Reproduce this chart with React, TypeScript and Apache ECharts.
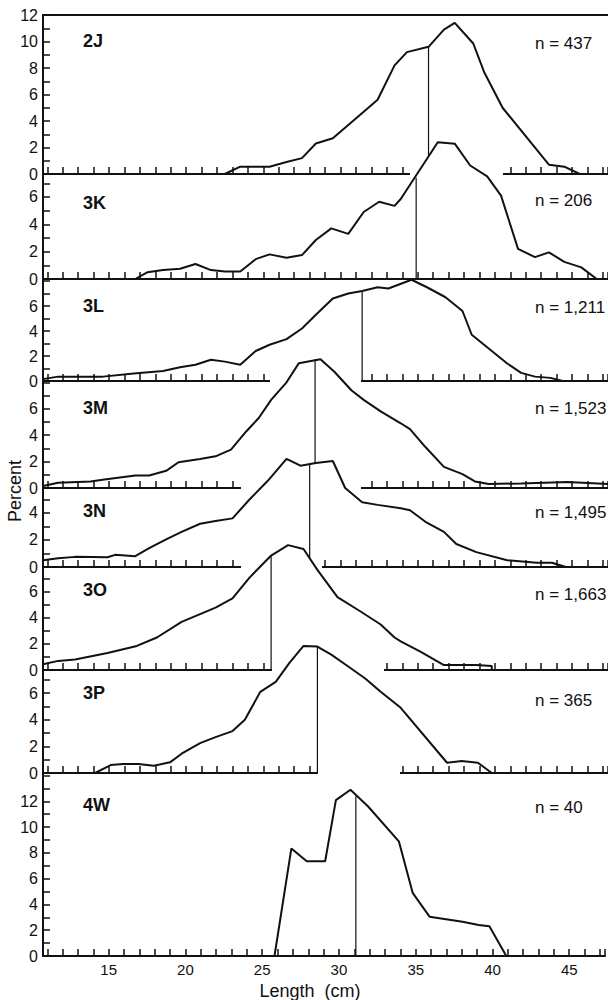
import React, { useEffect, useRef } from 'react';
import * as echarts from 'echarts';

type Pt = [number, number];

const panelNames = ['2J', '3K', '3L', '3M', '3N', '3O', '3P', '4W'];
const sampleSizes = ['437', '206', '1,211', '1,523', '1,495', '1,663', '365', '40'];

const curve2J: Pt[] = [[22.5, 0], [23.5, 0.55], [25.4, 0.55], [26.5, 0.9], [27.5, 1.2], [28.4, 2.3], [29.5, 2.7], [30.5, 3.7], [31.5, 4.7], [32.4, 5.6], [33.5, 8.2], [34.3, 9.2], [35.7, 9.6], [36.7, 10.9], [37.4, 11.4], [38.6, 9.85], [39.3, 7.7], [40.5, 5.0], [43.5, 0.7], [44.5, 0.55], [45.5, 0]];
const curve3K: Pt[] = [[16.7, 0], [17.5, 0.5], [18.5, 0.65], [19.6, 0.75], [20.6, 1.1], [21.6, 0.65], [22.5, 0.55], [23.5, 0.55], [24.5, 1.45], [25.4, 1.8], [26.5, 1.55], [27.5, 1.75], [28.4, 2.85], [29.4, 3.7], [30.5, 3.3], [31.5, 4.9], [32.5, 5.65], [33.5, 5.35], [33.9, 5.85], [36.3, 10.0], [37.4, 9.9], [38.4, 8.3], [39.5, 7.5], [40.4, 6.1], [41.5, 2.2], [42.6, 1.6], [43.5, 1.95], [44.5, 1.25], [45.6, 0.85], [46.6, 0]];
const curve3L: Pt[] = [[10.72, 0.15], [11.7, 0.35], [14.6, 0.35], [16.6, 0.6], [18.5, 0.8], [19.6, 1.1], [20.6, 1.3], [21.6, 1.7], [22.5, 1.55], [23.5, 1.3], [24.5, 2.4], [25.4, 2.9], [26.5, 3.35], [27.5, 4.2], [28.4, 5.3], [29.5, 6.6], [30.5, 7.0], [31.4, 7.2], [32.4, 7.5], [33.1, 7.4], [34.6, 8.1], [35.6, 7.5], [36.8, 6.7], [37.9, 5.6], [38.5, 3.7], [39.6, 2.6], [40.8, 1.4], [41.7, 0.65], [42.6, 0.35], [43.6, 0.25], [44.4, 0]];
const curve3M: Pt[] = [[10.72, 0.15], [11.7, 0.4], [13.8, 0.5], [14.7, 0.65], [15.7, 0.8], [16.7, 0.95], [17.6, 0.95], [18.7, 1.3], [19.5, 1.95], [20.9, 2.2], [21.9, 2.4], [22.9, 2.9], [23.9, 4.3], [24.7, 5.3], [25.5, 6.67], [26.5, 8.0], [27.3, 9.45], [28.7, 9.75], [29.6, 8.8], [30.7, 7.4], [31.5, 6.67], [32.6, 5.8], [33.9, 4.9], [34.5, 4.45], [35.5, 3.1], [36.7, 1.6], [37.9, 1.05], [38.7, 0.5], [39.6, 0.3], [41.7, 0.35], [44.7, 0.45], [47.33, 0.3]];
const curve3N: Pt[] = [[10.72, 0.5], [11.7, 0.65], [12.8, 0.75], [14.9, 0.72], [15.4, 0.9], [16.7, 0.8], [17.6, 1.4], [18.7, 2.05], [19.7, 2.6], [20.9, 3.2], [21.9, 3.4], [23.0, 3.6], [24.1, 5.0], [25.3, 6.4], [26.5, 8.0], [27.4, 7.5], [28.4, 7.7], [29.5, 7.85], [30.3, 5.85], [31.4, 4.8], [32.4, 4.6], [33.9, 4.35], [34.5, 4.2], [35.5, 3.35], [36.7, 2.6], [37.5, 1.7], [38.8, 1.1], [40.8, 0.5], [42.7, 0.32], [43.7, 0.32], [44.6, 0]];
const curve3O: Pt[] = [[10.72, 0.45], [11.7, 0.7], [12.8, 0.8], [14.9, 1.3], [16.8, 1.85], [18.1, 2.5], [19.7, 3.7], [20.9, 4.3], [21.9, 4.8], [23.0, 5.5], [24.1, 7.1], [25.5, 8.8], [26.6, 9.6], [27.6, 9.3], [28.5, 7.7], [29.8, 5.6], [31.3, 4.5], [32.6, 3.5], [33.5, 2.5], [33.9, 2.2], [35.2, 1.4], [36.7, 0.38], [38.8, 0.38], [39.8, 0.3], [39.8, 0]];
const curve3P: Pt[] = [[14.1, 0], [15.1, 0.6], [15.9, 0.68], [16.9, 0.68], [17.9, 0.55], [18.95, 0.8], [19.7, 1.45], [20.9, 2.25], [21.9, 2.7], [23.0, 3.15], [23.8, 4.0], [24.8, 6.1], [25.8, 6.85], [26.7, 8.3], [27.6, 9.55], [28.5, 9.5], [29.4, 8.9], [30.5, 8.0], [31.6, 7.1], [32.6, 6.1], [33.9, 4.9], [36.9, 0.77], [37.85, 0.9], [38.9, 0.77], [39.8, 0]];
const curve4W: Pt[] = [[25.8, 0], [26.9, 8.35], [27.9, 7.35], [29.1, 7.35], [29.8, 12.1], [30.75, 12.9], [31.9, 11.6], [33.9, 8.9], [34.8, 4.9], [35.9, 3.05], [38.05, 2.65], [39.1, 2.4], [39.8, 2.3], [40.9, 0]];

const curves: Pt[][] = [curve2J, curve3K, curve3L, curve3M, curve3N, curve3O, curve3P, curve4W];

// central length marker (vertical line) per panel, and its height where it meets the curve
const markerLengths = [35.7, 34.9, 31.4, 28.35, 28.0, 25.5, 28.5, 31.1];
const markerHeights = [9.6, 7.4, 7.2, 9.75, 7.6, 8.8, 9.5, 12.4];

const yLabelMax = [12, 6, 6, 6, 4, 6, 6, 12];
const xTickLabels = [15, 20, 25, 30, 35, 40, 45];

// ---------------- layout (pixels) ----------------
const FONT = '"Liberation Sans", Arial, Helvetica, sans-serif';
const AXIS_LEFT = 43;
const PLOT_W = 565;
const X_MIN = 10.72;
const X_MAX = 47.33;
const panelTop = [15, 174, 279, 381, 488, 567, 670, 773];
const panelBottom = [174, 279, 381, 488, 567, 670, 773, 956];
const panelYMax = [12, 7.68, 8.16, 8.1, 5.85, 7.92, 7.74, 14.2];
const nameY = [41, 203, 306, 408, 511, 590, 693, 805];
const nLabelY = [43, 200, 307, 408, 512, 594, 700, 807];
// pieces of a baseline hidden by the panel pasted below it (pixel spans)
const baselineGaps: { panel: number; from: number; to: number }[] = [
  { panel: 0, from: 410, to: 503 },
  { panel: 2, from: 270, to: 361 },
  { panel: 3, from: 241, to: 361 },
  { panel: 4, from: 241, to: 322 },
  { panel: 5, from: 272, to: 384 },
  { panel: 6, from: 318, to: 400 },
];

const INK = '#111';

function buildOption() {
  const n = panelTop.length;
  const grid = panelTop.map((t, i) => ({ left: AXIS_LEFT, width: PLOT_W, top: t, height: panelBottom[i] - t, containLabel: false }));

  const mkTick = () => ({ show: true, inside: true, length: 7, interval: 0, lineStyle: { color: INK, width: 1.5 } });

  const xAxis: any[] = panelTop.map((_, i) => ({
    type: 'value', gridIndex: i, min: X_MIN, max: X_MAX, splitNumber: 37, minInterval: 1, maxInterval: 1,
    position: 'bottom', z: 15 + 10 * i,
    axisLine: { show: true, onZero: false, lineStyle: { color: INK, width: 2 } },
    axisTick: mkTick(),
    axisLabel: {
      show: i === n - 1, color: INK, fontSize: 15, fontFamily: FONT, margin: 6,
      formatter: (v: number) => (xTickLabels.some((t) => Math.abs(t - v) < 1e-6) ? String(Math.round(v)) : ''),
    },
    splitLine: { show: false },
  }));
  xAxis.push({
    type: 'value', gridIndex: 0, min: X_MIN, max: X_MAX, position: 'top', z: 5,
    axisLine: { show: true, onZero: false, lineStyle: { color: INK, width: 2 } },
    axisTick: { show: false }, axisLabel: { show: false }, splitLine: { show: false },
  });

  const yBase = (i: number) => ({
    type: 'value', gridIndex: i, min: 0, max: panelYMax[i], splitNumber: Math.ceil(panelYMax[i]),
    minInterval: 1, maxInterval: 1, position: 'left', splitLine: { show: false },
  });
  // axes 0..7: line and ticks
  const yAxis: any[] = panelTop.map((_, i) => ({
    ...yBase(i), z: 200,
    axisLine: { show: true, onZero: false, lineStyle: { color: INK, width: 2 } },
    axisTick: mkTick(),
    axisLabel: { show: false },
  }));
  // axes 8..15: tick labels
  panelTop.forEach((_, i) => {
    yAxis.push({
      ...yBase(i), z: 200,
      axisLine: { show: false }, axisTick: { show: false },
      axisLabel: {
        show: true, color: INK, fontSize: 16, fontFamily: FONT, margin: 5,
        formatter: (v: number) => {
          const r = Math.round(v);
          if (Math.abs(v - r) > 1e-6) return '';
          if (r % 2 !== 0) return '';
          if (r > yLabelMax[i]) return '';
          return String(r);
        },
      },
    });
  });

  const series: any[] = [];
  curves.forEach((c, i) => {
    series.push({
      type: 'line', name: panelNames[i], xAxisIndex: i, yAxisIndex: i, data: c, symbol: 'none', clip: false, silent: true,
      z: 10 + 10 * i, lineStyle: { color: INK, width: 2 }, areaStyle: { color: '#ffffff', opacity: 1 },
    });
    series.push({
      type: 'line', name: panelNames[i] + ' marker', xAxisIndex: i, yAxisIndex: i,
      data: [[markerLengths[i], 0], [markerLengths[i], markerHeights[i]]],
      symbol: 'none', clip: false, silent: true, z: 11 + 10 * i, lineStyle: { color: INK, width: 1.2 },
    });
  });

  const graphic: any[] = [];
  baselineGaps.forEach((g) => {
    graphic.push({
      type: 'rect', z: 17 + 10 * g.panel, silent: true,
      shape: { x: g.from, y: panelBottom[g.panel] - 9, width: g.to - g.from, height: 11 },
      style: { fill: '#ffffff' },
    });
  });
  panelNames.forEach((name, i) => {
    graphic.push({ type: 'text', x: 83, y: nameY[i], z: 300, style: { text: name, fill: INK, font: `bold 18px ${FONT}`, align: 'left', verticalAlign: 'middle' } });
    graphic.push({ type: 'text', x: 535, y: nLabelY[i], z: 300, style: { text: `n = ${sampleSizes[i]}`, fill: INK, font: `17px ${FONT}`, align: 'left', verticalAlign: 'middle' } });
  });
  graphic.push({ type: 'text', x: 15, y: 491, rotation: Math.PI / 2, z: 300, style: { text: 'Percent', fill: INK, font: `18px ${FONT}`, align: 'center', verticalAlign: 'middle' } });
  graphic.push({ type: 'text', x: 310, y: 991, z: 300, style: { text: 'Length  (cm)', fill: INK, font: `18px ${FONT}`, align: 'center', verticalAlign: 'middle' } });

  return { animation: false, backgroundColor: '#ffffff', grid, xAxis, yAxis, series, graphic };
}

export default function App() {
  const ref = useRef<HTMLDivElement>(null);
  useEffect(() => {
    document.body.style.margin = '0';
    if (!ref.current) return;
    const chart = echarts.init(ref.current, undefined, { renderer: 'svg' });
    chart.setOption(buildOption() as any);
    return () => chart.dispose();
  }, []);
  return <div ref={ref} style={{ position: 'absolute', left: 0, top: 0, width: 608, height: 1000, background: '#fff' }} />;
}
